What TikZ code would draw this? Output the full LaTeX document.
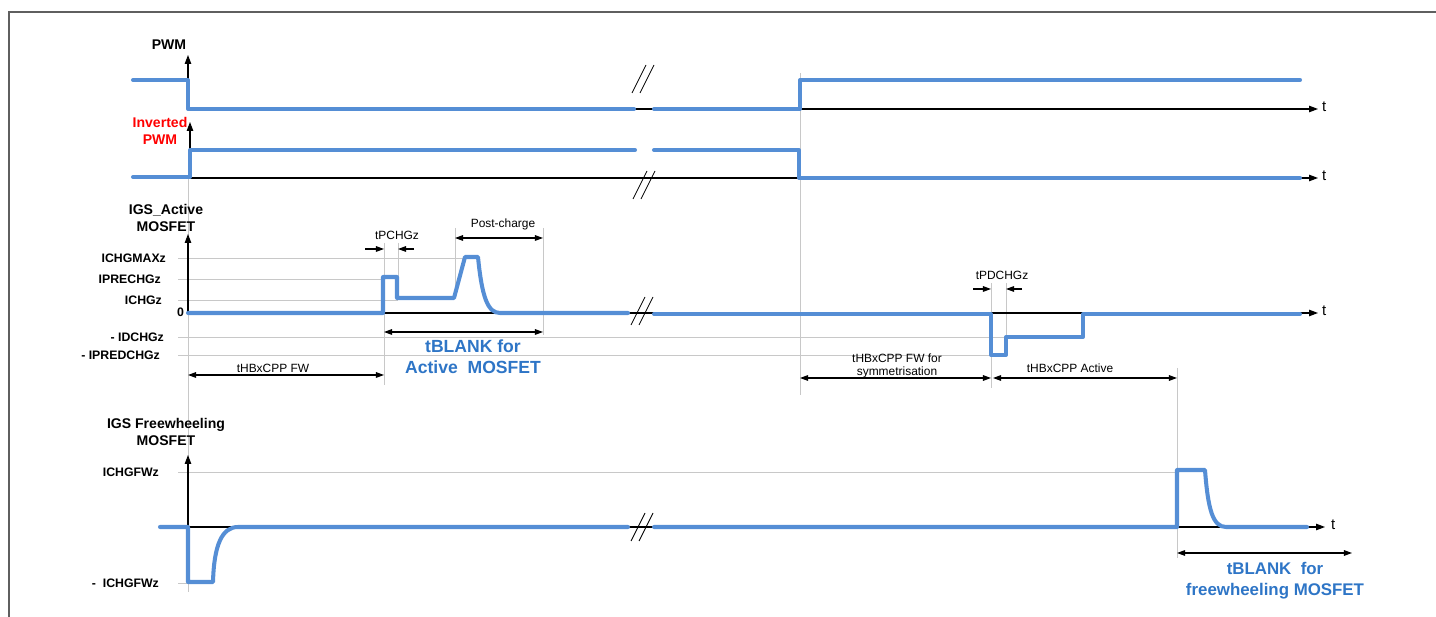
\documentclass[tikz,border=0pt]{standalone}
\usepackage{fontspec}
\setmainfont{Liberation Sans}
\usetikzlibrary{arrows.meta}
\definecolor{sigblue}{RGB}{85,142,213}
\definecolor{textblue}{RGB}{46,117,198}
\definecolor{guidegray}{RGB}{200,200,200}
\definecolor{framegray}{RGB}{95,95,95}
\tikzset{
    signal/.style={draw=sigblue, line width=2.3pt, line join=round, line cap=round},
    axis/.style={-{Triangle[length=5pt, width=3.6pt]}, line width=0.6pt},
    guide/.style={draw=guidegray, line width=0.55pt},
    dim/.style={{Triangle[length=4.6pt, width=3.2pt]}-{Triangle[length=4.6pt, width=3.2pt]},
                line width=0.6pt},
    pointer/.style={-{Triangle[length=4.6pt, width=3.2pt]}, line width=0.6pt},
    breakline/.style={line width=0.5pt},
    axislabel/.style={font=\bfseries\fontsize{8}{9.4}\selectfont, align=center},
    level/.style={font=\bfseries\fontsize{7}{8}\selectfont, anchor=east, inner sep=1pt},
    note/.style={font=\fontsize{6.8}{7.6}\selectfont, align=center, inner sep=1pt},
    blanklabel/.style={font=\bfseries\fontsize{10}{12}\selectfont, text=textblue, align=center},
    tlabel/.style={font=\fontsize{8.5}{10}\selectfont, anchor=west, inner sep=1pt},
}
\newcommand{\breakmark}[2]{
    \begin{scope}[shift={(#1,#2)}]
        \draw[breakline] (-11,14) -- (3,-14) (-3,14) -- (11,-14);
    \end{scope}
}
\newcommand{\dimline}[5][dim]{
    \coordinate (#2a) at (#3,#5);
    \coordinate (#2b) at (#4,#5);
    \draw[#1] (#2a) -- (#2b);
}

\begin{document}
\begin{tikzpicture}[x=0.02cm, y=-0.02cm]
    \useasboundingbox (0,0) rectangle (1436,617);
    \draw[framegray, line width=0.8pt] (9,617) -- (9,12) -- (1436,12);

    % guide lines
    \draw[guide] (188,178) -- (188,592);
    \draw[guide] (384,243) -- (384,385);
    \draw[guide] (398,243) -- (398,277);
    \draw[guide] (455,228) -- (455,298);
    \draw[guide] (543,228) -- (543,335);
    \draw[guide] (800,73) -- (800,395);
    \draw[guide] (991,283) -- (991,388);
    \draw[guide] (1006,283) -- (1006,336);
    \draw[guide] (1177,368) -- (1177,558);
    \draw[guide] (178,258) -- (465,258);
    \draw[guide] (178,279) -- (384,279);
    \draw[guide] (178,300) -- (398,300);
    \draw[guide] (178,337) -- (1006,337);
    \draw[guide] (178,355) -- (991,355);
    \draw[guide] (178,472) -- (1177,472);
    \draw[guide] (178,583) -- (190,583);

    % PWM
    \node[axislabel] (pwmlbl) at (169,45) {PWM};
    \draw[axis] (188,109) -- (188,55);
    \draw[axis] (188,109) -- (1318,109);
    \node[tlabel] (pwmt) at (1320,107) {t};
    \draw[signal] (133,80) -- (188,80) -- (188,109) -- (634,109);
    \draw[signal] (654,109) -- (800,109) -- (800,80) -- (1300,80);
    \breakmark{643}{79}

    % inverted PWM
    \node[axislabel, text=red] (invlbl) at (160,131) {Inverted\\PWM};
    \draw[axis] (190,178) -- (190,122);
    \draw[axis] (190,178) -- (1318,178);
    \node[tlabel] (invt) at (1320,176) {t};
    \draw[signal] (133,177) -- (190,177) -- (190,150) -- (635,150);
    \draw[signal] (654,150) -- (799,150) -- (799,178) -- (1300,178);
    \breakmark{644}{185}

    % active MOSFET current
    \node[axislabel] (actlbl) at (166,218) {IGS\_Active\\MOSFET};
    \node[level] (lmax) at (168,258) {ICHGMAXz};
    \node[level] (lpre) at (163,279) {IPRECHGz};
    \node[level] (lchg) at (164,300) {ICHGz};
    \node[level] (lzero) at (186,312) {0};
    \node[level] (ldchg) at (166,337) {- IDCHGz};
    \node[level] (lpred) at (162,355) {- IPREDCHGz};
    \draw[axis] (188,313) -- (188,234);
    \draw[axis] (188,313) -- (1318,313);
    \node[tlabel] (actt) at (1320,311) {t};
    \draw[signal] (188,313) -- (383,313) -- (383,277) -- (397,277) -- (397,298)
        -- (454,298) -- (465,257) -- (478,257)
        .. controls (482,298) and (488,313) .. (500,313) -- (628,313);
    \draw[signal] (654,314) -- (991,314) -- (991,355) -- (1006,355) -- (1006,337)
        -- (1083,337) -- (1083,314) -- (1300,314);
    \breakmark{642}{311}

    \node[note] (tpchg) at (397,235) {tPCHGz};
    \draw[pointer] (365,249) -- (384,249);
    \draw[pointer] (414,249) -- (398,249);
    \node[note] (postlbl) at (503,224) {Post-charge};
    \dimline{post}{455}{543}{238}
    \dimline{blankact}{384}{543}{332}
    \node[blanklabel] (blankactlbl) at (473,357) {tBLANK for\\Active\ \ MOSFET};
    \dimline{hbfw}{188}{384}{375}
    \node[note] (hbfwlbl) at (273,368) {tHBxCPP FW};

    \node[note] (tpdchg) at (1002,275) {tPDCHGz};
    \draw[pointer] (973,289) -- (991,289);
    \draw[pointer] (1022,289) -- (1006,289);
    \dimline{hbsym}{800}{991}{378}
    \node[note] (hbsymlbl) at (897,366) {tHBxCPP FW for\\symmetrisation};
    \dimline{hbact}{993}{1177}{378}
    \node[note] (hbactlbl) at (1070,368) {tHBxCPP Active};

    % freewheeling MOSFET current
    \node[axislabel] (fwlbl) at (166,432) {IGS Freewheeling\\MOSFET};
    \node[level] (lfw) at (161,472) {ICHGFWz};
    \node[level] (lnfw) at (161,583) {-\ \ ICHGFWz};
    \draw[axis] (188,527) -- (188,455);
    \draw[axis] (188,527) -- (1325,527);
    \node[tlabel] (fwt) at (1329,525) {t};
    \draw[signal] (160,527) -- (188,527) -- (188,582) -- (213,582)
        .. controls (214,545) and (222,527) .. (238,527) -- (628,527);
    \draw[signal] (654,527) -- (1177,527) -- (1177,470) -- (1205,470)
        .. controls (1208,510) and (1213,527) .. (1226,527) -- (1307,527);
    \breakmark{642}{527}

    \dimline{blankfw}{1177}{1352}{553}
    \node[blanklabel, font=\bfseries\fontsize{9.6}{12}\selectfont] (blankfwlbl) at (1275,581)
        {tBLANK\ \ for\\freewheeling MOSFET};
\end{tikzpicture}
\end{document}
